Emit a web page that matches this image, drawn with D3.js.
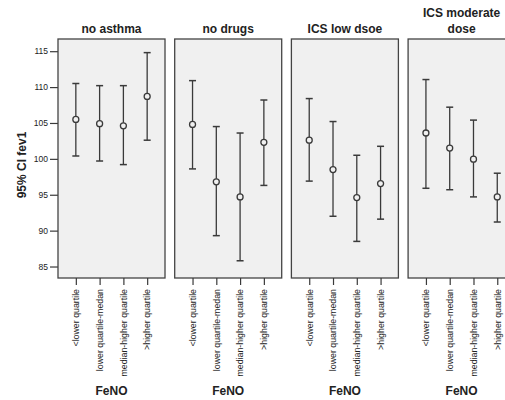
<!DOCTYPE html>
<html>
<head>
  <meta charset="utf-8">
  <script src="https://d3js.org/d3.v7.min.js"></script>
  <style>
    body { margin: 0; background: #fff; }
    text { font-family: "Liberation Sans", Arial, sans-serif; }
  </style>
</head>
<body>
<div id="chart"></div>
<script>
// groups (panels) and FeNO categories
var groups = ["no asthma", "no drugs", "ICS low dsoe", "ICS moderate dose"];
var categories = ["<lower quartile", "lower quartile-medan", "median-higher quartile", ">higher quartile"];
var yTicks = [85, 90, 95, 100, 105, 110, 115];

// mean fev1 and 95% CI per group, in category order
var means = [
  [105.5, 104.9, 104.6, 108.7],
  [104.8, 96.8, 94.7, 102.3],
  [102.6, 98.5, 94.6, 96.55],
  [103.6, 101.5, 99.95, 94.7]
];
var lower = [
  [100.4, 99.7, 99.2, 102.6],
  [98.6, 89.3, 85.8, 96.3],
  [96.9, 92.0, 88.5, 91.6],
  [95.9, 95.7, 94.7, 91.2]
];
var upper = [
  [110.5, 110.2, 110.2, 114.8],
  [110.9, 104.5, 103.6, 108.2],
  [108.4, 105.2, 100.5, 101.75],
  [111.05, 107.2, 105.4, 98.0]
];

var width = 505, height = 400;
var plotTop = 39, plotBottom = 278;

var svg = d3.select("#chart")
  .append("svg")
    .attr("width", width)
    .attr("height", height);

// panels
var px = d3.scaleBand()
  .domain(groups)
  .range([58, 515.1])
  .paddingInner(0.0831);

var y = d3.scaleLinear()
  .domain([83.4, 116.7])
  .range([plotBottom, plotTop]);

var x = d3.scalePoint()
  .domain(categories)
  .range([0, px.bandwidth()])
  .padding(0.75);

var ink = "#3a3a3a";

// y axis
var yAxis = svg.append("g")
  .attr("transform", "translate(58,0)")
  .call(d3.axisLeft(y).tickValues(yTicks).tickSize(8).tickPadding(2));
yAxis.select(".domain").remove();
yAxis.selectAll("line").attr("stroke", ink).attr("stroke-width", 1.2);
yAxis.selectAll("text")
  .attr("font-size", 8.5)
  .attr("font-family", "Liberation Sans, Arial, sans-serif")
  .attr("fill", "#222");

svg.append("text")
  .attr("transform", "translate(26,165) rotate(-90)")
  .attr("text-anchor", "middle")
  .attr("font-size", 12)
  .attr("font-weight", "bold")
  .attr("fill", "#222")
  .text("95% CI fev1");

groups.forEach(function(gname, gi) {
  var g = svg.append("g")
    .attr("transform", "translate(" + px(gname) + ",0)");

  g.append("rect")
    .attr("x", 0)
    .attr("y", plotTop)
    .attr("width", px.bandwidth())
    .attr("height", plotBottom - plotTop)
    .attr("fill", "#f0f0f0")
    .attr("stroke", "#444")
    .attr("stroke-width", 1.3);

  // title
  var title = g.append("text")
    .attr("text-anchor", "middle")
    .attr("font-size", 12)
    .attr("font-weight", "bold")
    .attr("fill", "#222");
  if (gname == "ICS moderate dose") {
    title.append("tspan").attr("x", px.bandwidth() / 2).attr("y", 17).text("ICS moderate");
    title.append("tspan").attr("x", px.bandwidth() / 2).attr("y", 33).text("dose");
  } else {
    title.attr("x", px.bandwidth() / 2).attr("y", 33).text(gname);
  }

  // x axis
  var xAxis = g.append("g")
    .attr("transform", "translate(0," + plotBottom + ")")
    .call(d3.axisBottom(x).tickSize(7).tickPadding(3));
  xAxis.select(".domain").remove();
  xAxis.selectAll("line").attr("stroke", ink).attr("stroke-width", 1.2);
  xAxis.selectAll("text")
    .attr("font-size", 8.8)
    .attr("font-family", "Liberation Sans, Arial, sans-serif")
    .attr("fill", "#222")
    .attr("transform", "rotate(-90)")
    .attr("text-anchor", "end")
    .attr("x", -11)
    .attr("y", 0)
    .attr("dy", "0.32em");

  g.append("text")
    .attr("x", px.bandwidth() / 2)
    .attr("y", 395)
    .attr("text-anchor", "middle")
    .attr("font-size", 12)
    .attr("font-weight", "bold")
    .attr("fill", "#222")
    .text("FeNO");

  var rows = categories.map(function(c, i) {
    return { cat: c, mean: means[gi][i], lo: lower[gi][i], hi: upper[gi][i] };
  });

  // error bars
  g.selectAll(".bar")
    .data(rows)
    .enter()
    .append("line")
    .attr("x1", function(d) { return x(d.cat); })
    .attr("x2", function(d) { return x(d.cat); })
    .attr("y1", function(d) { return y(d.lo); })
    .attr("y2", function(d) { return y(d.hi); })
    .attr("stroke", ink)
    .attr("stroke-width", 1.3);

  ["lo", "hi"].forEach(function(k) {
    g.selectAll(".cap" + k)
      .data(rows)
      .enter()
      .append("line")
      .attr("x1", function(d) { return x(d.cat) - 3.5; })
      .attr("x2", function(d) { return x(d.cat) + 3.5; })
      .attr("y1", function(d) { return y(d[k]); })
      .attr("y2", function(d) { return y(d[k]); })
      .attr("stroke", ink)
      .attr("stroke-width", 1.5);
  });

  // means
  g.selectAll("circle")
    .data(rows)
    .enter()
    .append("circle")
    .attr("cx", function(d) { return x(d.cat); })
    .attr("cy", function(d) { return y(d.mean); })
    .attr("r", 3)
    .attr("fill", "#f0f0f0")
    .attr("stroke", ink)
    .attr("stroke-width", 1.3);
});
</script>
</body>
</html>
